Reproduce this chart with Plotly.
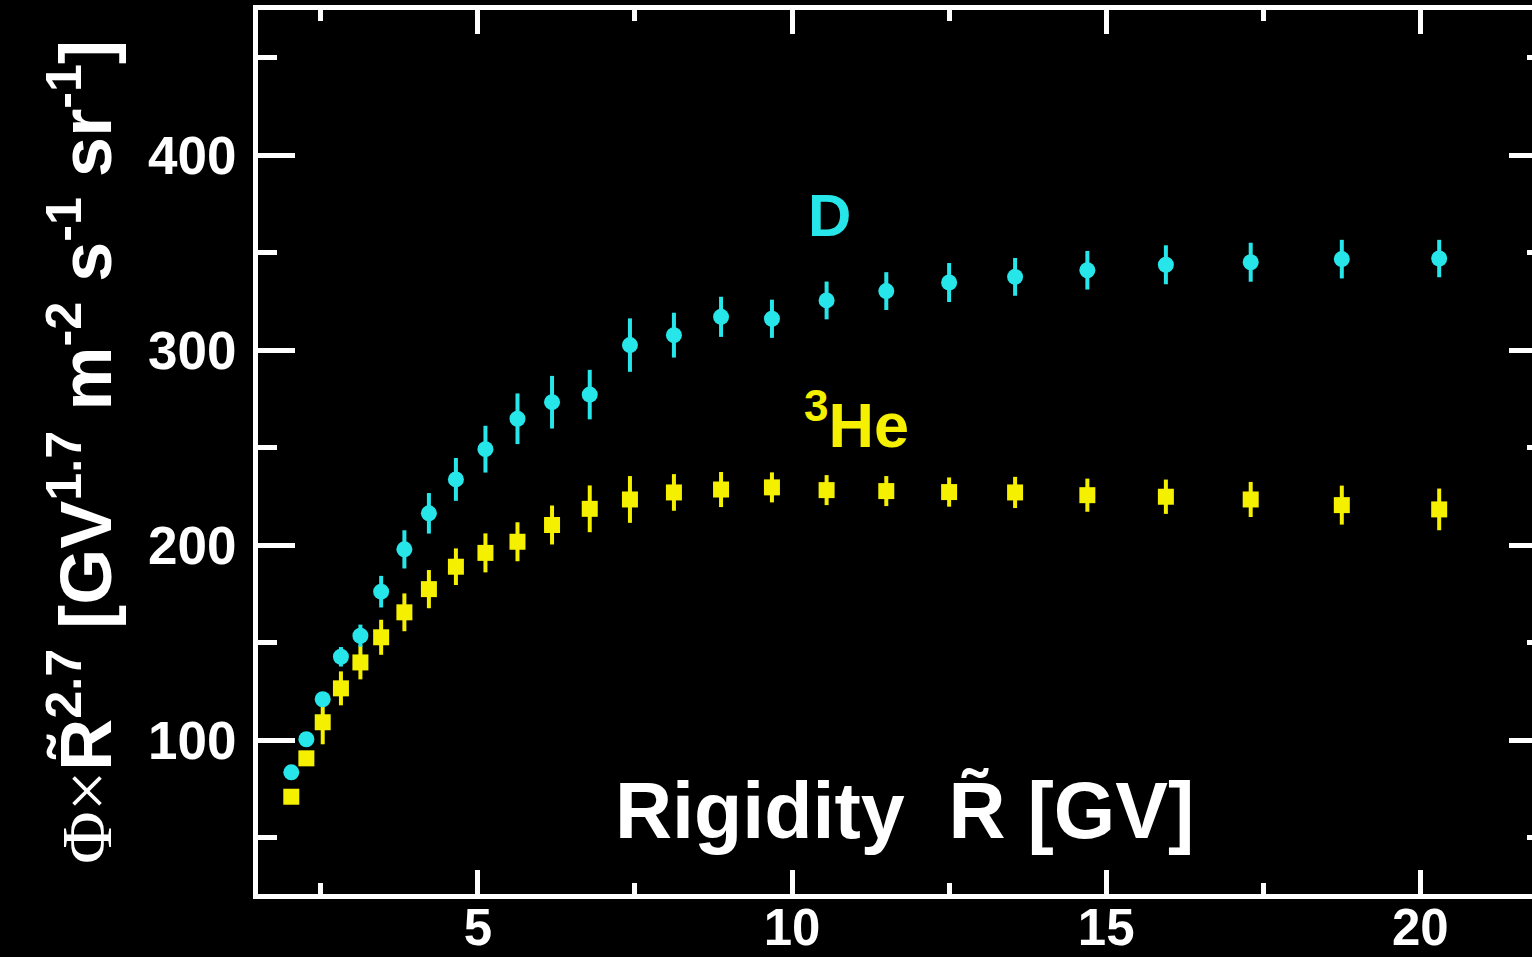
import plotly.graph_objects as go

# Rigidity bin centres [GV]
rigidity = [2.03, 2.27, 2.53, 2.82, 3.13, 3.46, 3.83, 4.22, 4.65, 5.12, 5.63, 6.18, 6.78,
            7.42, 8.12, 8.87, 9.68, 10.55, 11.5, 12.5, 13.55, 14.7, 15.95, 17.3, 18.75, 20.3]

# Deuteron flux x R^2.7 and total uncertainty
d_flux = [83.4, 100.4, 120.9, 142.7, 153.5, 176.1, 197.8, 216.3, 233.7, 249.2, 264.8, 273.3, 277.2,
          302.6, 307.7, 317.1, 316.1, 325.5, 330.3, 334.7, 337.6, 341.0, 343.8, 345.1, 346.7, 347.0]
d_err = [2, 2, 3, 5, 5.7, 8.1, 9.8, 10.4, 11, 12, 13, 13.5, 12.7,
         13.7, 11.5, 10.3, 9.8, 9.7, 9.7, 10, 9.7, 9.9, 10, 10, 9.9, 9.6]

# Helium-3 flux x R^2.7 and total uncertainty
he3_flux = [70.9, 90.6, 109.1, 126.5, 139.8, 152.7, 165.5, 177.4, 188.9, 196.0, 201.7, 210.3, 218.6,
            223.4, 227.0, 228.5, 229.6, 228.2, 227.7, 227.2, 227.0, 225.6, 224.8, 223.4, 220.5, 218.3]
he3_err = [2.5, 3, 11.3, 8.7, 8.7, 9, 9.7, 9.8, 9.4, 10, 10, 10, 12,
           12, 9.4, 9, 7.7, 7.7, 7.7, 7.5, 8, 8.5, 8.8, 9, 10, 10.7]

CYAN = "#27E6EA"
YELLOW = "#F4F000"
WHITE = "#FFFFFF"
FONT = "Liberation Sans"

fig = go.Figure()

fig.add_trace(go.Scatter(
    x=rigidity, y=he3_flux, mode="markers", name="3He",
    marker=dict(symbol="square", size=16, color=YELLOW),
    error_y=dict(type="data", array=he3_err, color=YELLOW, thickness=4, width=0),
))
fig.add_trace(go.Scatter(
    x=rigidity, y=d_flux, mode="markers", name="D",
    marker=dict(symbol="circle", size=16, color=CYAN),
    error_y=dict(type="data", array=d_err, color=CYAN, thickness=4, width=0),
))

axis_common = dict(
    showline=True, linecolor=WHITE, linewidth=5, mirror="ticks",
    ticks="inside", tickcolor=WHITE, tickwidth=5,
    showgrid=False, zeroline=False, automargin=False,
)

fig.update_xaxes(
    **axis_common, range=[1.5, 22], tickmode="linear", tick0=0, dtick=5, ticklen=24,
    tickfont=dict(family=FONT, size=51, color=WHITE, weight="bold"),
    ticklabelstandoff=-15,
    minor=dict(tickmode="linear", tick0=0, dtick=2.5, ticklen=11, tickwidth=5,
               tickcolor=WHITE, ticks="inside", showgrid=False),
)
fig.update_yaxes(
    **axis_common, range=[21, 474.5], tickmode="linear", tick0=0, dtick=100, ticklen=37,
    tickfont=dict(family=FONT, size=53, color=WHITE, weight="bold"),
    ticklabelstandoff=6,
    minor=dict(tickmode="linear", tick0=0, dtick=50, ticklen=19, tickwidth=5,
               tickcolor=WHITE, ticks="inside", showgrid=False),
    title=dict(
        text=("<span style='font-family:Liberation Serif;font-weight:normal'>\u03a6\u00d7</span>"
              "R\u0303<sup>2.7</sup> [GV<sup>1.7</sup> m<sup>-2</sup> s<sup>-1</sup> sr<sup>-1</sup>]"),
        font=dict(family=FONT, size=72, color=WHITE, weight="bold"),
        standoff=14,
    ),
)

fig.add_annotation(
    x=10.59, y=369, xref="x", yref="y", text="D", showarrow=False,
    font=dict(family=FONT, size=60, color=CYAN, weight="bold"),
)
fig.add_annotation(
    x=11.02, y=264, xref="x", yref="y", text="<sup>3</sup>He", showarrow=False,
    font=dict(family=FONT, size=63, color=YELLOW, weight="bold"),
)
fig.add_annotation(
    x=0.502, y=0.042, xref="paper", yref="paper",
    text="Rigidity\u00a0\u00a0R\u0303 [GV]", showarrow=False,
    font=dict(family=FONT, size=79, color=WHITE, weight="bold"),
)

fig.update_layout(
    width=1546, height=957,
    margin=dict(l=258, r=0, t=10, b=63, autoexpand=False),
    paper_bgcolor="black", plot_bgcolor="black",
    showlegend=False,
)

fig.write_html(
    "out.html",
    post_script=("document.body.style.margin='0';"
                 "document.body.style.overflow='hidden';"
                 "document.documentElement.style.overflow='hidden';"),
)
